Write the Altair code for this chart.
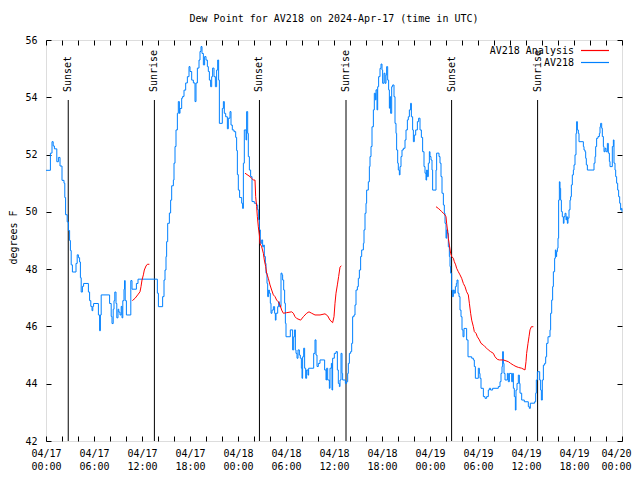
import altair as alt
import pandas as pd

FONT = "DejaVu Sans Mono"

title_text = "Dew Point for AV218 on 2024-Apr-17 (time in UTC)"
y_title = "degrees F"
legend_labels = ["AV218 Analysis", "AV218"]
series_colors = ["#ff0000", "#0080ff"]

# Observed dew point (hours since 2024-04-17 00:00 UTC, degrees F)
blue_hours = [
    0.0, 0.55, 0.75, 0.9, 1.05, 1.35, 1.55, 1.75, 2.0, 2.25, 2.35, 2.45, 2.65, 2.8, 2.95, 3.05, 3.15, 3.3,
    3.75, 3.9, 4.05, 4.2, 4.3, 4.4, 4.55, 4.7, 5.3, 5.45, 5.6, 5.75, 5.85, 5.95, 6.55, 6.7, 6.8, 6.9,
    7.95, 8.15, 8.25, 8.4, 8.5, 8.6, 8.75, 8.85, 9.0, 9.1, 9.25, 9.4, 9.5, 9.6, 9.75, 9.82, 9.9, 10.05,
    10.6, 10.75, 11.3, 11.5, 13.92, 14.05, 14.58, 14.75, 14.875, 15.0, 15.08, 15.21, 15.42, 15.58, 15.71,
    15.92, 16.0, 16.125, 16.25, 16.42, 16.54, 16.67, 16.75, 16.96, 17.08, 17.25, 17.46, 17.67, 17.875,
    18.0, 18.21, 18.42, 18.625, 18.75, 18.92, 19.125, 19.25, 19.375, 19.5, 19.67, 19.83, 20.0, 20.17,
    20.29, 20.42, 20.58, 20.71, 20.83, 21.0, 21.17, 21.33, 21.46, 21.58, 21.67, 22.04, 22.17, 22.29,
    22.46, 22.67, 22.79, 23.0, 23.125, 23.29, 23.5, 23.71, 23.83, 23.92, 24.04, 24.2, 24.46, 24.58,
    24.67, 24.79, 25.0, 25.08, 25.21, 25.29, 25.42, 25.58, 25.75, 26.04, 26.33, 26.46, 26.58, 26.67,
    26.79, 26.96, 27.08, 27.2, 27.29, 27.42, 27.5, 27.625, 27.71, 27.83, 27.92, 28.04, 28.125, 28.25,
    28.42, 28.58, 28.67, 28.75, 28.96, 29.08, 29.17, 29.375, 29.5, 29.58, 29.71, 29.83, 29.92, 30.0,
    30.54, 30.83, 30.96, 31.08, 31.17, 31.25, 31.375, 31.5, 31.67, 31.79, 31.92, 32.0, 32.08, 32.21,
    32.33, 32.46, 32.58, 32.75, 32.83, 33.46, 33.625, 33.75, 33.875, 34.04, 34.25, 34.83, 35.0, 35.08,
    35.21, 35.42, 35.5, 35.67, 35.75, 35.83, 36.04, 36.25, 36.42, 36.54, 36.67, 36.75, 36.875, 37.0,
    37.08, 37.42, 37.58, 37.71, 37.79, 37.92, 38.08, 38.21, 38.33, 38.5, 38.625, 38.75, 38.92, 39.04,
    39.17, 39.33, 39.46, 39.67, 39.75, 39.875, 40.0, 40.08, 40.29, 40.42, 40.5, 40.625, 40.75, 40.92,
    41.04, 41.17, 41.25, 41.375, 41.46, 41.58, 41.75, 41.875, 42.0, 42.08, 42.25, 42.375, 42.5, 42.58,
    42.71, 42.83, 42.92, 43.0, 43.08, 43.21, 43.33, 43.5, 43.625, 43.75, 43.83, 43.96, 44.04, 44.17,
    44.25, 44.375, 44.5, 44.67, 44.875, 45.0, 45.17, 45.29, 45.42, 45.58, 45.67, 45.83, 45.92, 46.04,
    46.21, 46.42, 46.58, 46.75, 46.92, 47.08, 47.25, 47.375, 47.5, 47.58, 47.67, 47.79, 47.92, 48.0,
    48.125, 48.25, 48.33, 48.75, 48.83, 49.125, 49.25, 49.375, 49.5, 49.67, 49.79, 49.875, 50.0, 50.08,
    50.21, 50.29, 50.42, 50.5, 50.58, 50.71, 50.79, 50.92, 51.04, 51.17, 51.29, 51.375, 51.5, 51.625,
    51.75, 51.875, 52.0, 52.125, 52.25, 52.58, 52.75, 53.21, 53.42, 53.54, 53.67, 54.04, 54.17, 54.25,
    54.375, 54.67, 54.875, 55.08, 55.29, 55.42, 55.58, 55.83, 56.54, 56.75, 56.875, 57.0, 57.08, 57.17,
    57.25, 57.375, 57.67, 57.79, 57.92, 58.21, 58.33, 58.42, 58.54, 58.67, 58.75, 58.875, 59.04, 59.17,
    59.25, 59.46, 59.79, 60.29, 60.42, 60.54, 61.08, 61.21, 61.29, 61.42, 61.71, 61.83, 61.92, 62.04,
    62.17, 62.33, 62.46, 62.58, 62.75, 63.0, 63.08, 63.21, 63.33, 63.42, 63.58, 63.67, 63.75, 63.83,
    63.92, 64.0, 64.08, 64.17, 64.25, 64.33, 64.42, 64.54, 64.67, 64.75, 64.875, 65.0, 65.08, 65.17,
    65.25, 65.375, 65.5, 65.58, 65.67, 65.79, 65.92, 66.0, 66.125, 66.25, 66.33, 66.42, 66.54, 66.625,
    67.17, 67.25, 67.375, 67.46, 67.54, 67.67, 68.5, 68.625, 68.71, 68.83, 69.0, 69.17, 69.25, 69.33,
    69.46, 69.54, 69.67, 69.75, 69.875, 70.0, 70.17, 70.29, 70.42, 70.5, 70.79, 70.92, 71.0, 71.125,
    71.21, 71.33, 71.46, 71.58, 71.71, 71.83, 71.92, 72.0,
]
blue_values = [
    51.45, 52.05, 52.45, 52.3, 52.2, 51.75, 51.9, 51.6, 51.1, 51.0, 50.5, 49.9, 49.65, 49.35, 49.0, 48.65, 48.15, 47.9,
    48.2, 48.5, 48.4, 48.25, 47.7, 47.2, 47.4, 47.5, 47.2, 46.9, 46.7, 46.55, 46.7, 46.8, 46.4, 45.85, 46.4, 47.1,
    46.8, 46.35, 46.1, 46.6, 46.9, 47.2, 46.8, 46.3, 46.6, 46.5, 46.4, 46.7, 46.3, 46.9, 47.3, 47.6, 46.9, 46.4,
    47.6, 47.3, 47.5, 47.65, 47.16, 46.69, 47.04, 47.62, 47.97, 48.44, 48.96, 49.6, 49.96, 50.41, 50.91,
    51.11, 51.7, 52.28, 52.86, 53.44, 53.85, 53.44, 53.61, 53.97, 54.03, 54.25, 54.5, 54.72, 55.07,
    54.9, 54.6, 54.5, 53.85, 54.5, 55.02, 55.3, 55.6, 55.77, 55.53, 55.13, 55.42, 55.3, 55.07,
    54.9, 54.6, 54.37, 54.72, 55.02, 54.72, 54.37, 54.95, 55.3, 54.6, 53.09, 53.61, 53.85, 53.44,
    53.32, 52.9, 53.27, 53.5, 53.03, 52.86, 52.8, 52.6, 52.14, 51.3, 50.76, 50.5, 50.3, 50.12,
    51.7, 52.86, 52.51, 53.5, 52.74, 51.93, 51.46, 51.23, 50.36, 50.3, 50.24, 50.07, 49.72, 49.37,
    48.9, 49.02, 48.78, 48.84, 48.44, 48.2, 47.86, 47.5, 47.04, 47.27, 47.16, 46.81, 46.46, 46.57,
    46.69, 46.46, 46.22, 46.46, 46.69, 46.86, 46.69, 47.86, 47.8, 47.62, 47.27, 46.81, 46.11, 45.64,
    45.88, 45.18, 45.64, 45.88, 45.18, 45.06, 44.89, 45.18, 45.0, 44.89, 44.54, 44.19, 44.94, 45.24,
    44.54, 44.19, 44.48, 44.3, 44.54, 45.06, 45.53, 45.0, 44.6, 44.71, 44.83, 44.48, 44.13, 44.54,
    44.13, 43.84, 44.54, 44.71, 43.78, 44.89, 45.06, 45.12, 44.48, 44.01, 43.9, 44.13, 45.06, 44.36,
    44.13, 44.01, 44.07, 44.36, 44.71, 45.06, 45.12, 45.41, 46.34, 46.4, 46.75, 47.27, 47.39, 47.68,
    47.97, 48.44, 48.67, 48.9, 49.37, 49.95, 50.3, 50.76, 51.05, 51.58, 51.93, 52.28, 52.97, 53.56,
    54.14, 53.91, 54.26, 53.56, 54.37, 54.72, 55.01, 55.16, 54.95, 54.49, 54.84, 54.49, 54.78, 55.07,
    54.6, 54.26, 53.62, 54.02, 53.44, 54.37, 54.43, 54.02, 53.09, 52.74, 52.16, 51.7, 51.46, 51.29,
    51.58, 51.93, 52.16, 52.22, 52.51, 52.86, 53.21, 53.32, 53.56, 53.79, 53.32, 52.86, 52.45, 52.68,
    52.86, 53.15, 53.27, 52.86, 52.6, 52.1, 51.58, 51.35, 51.11, 51.46, 51.23, 51.7, 52.1, 51.93,
    51.81, 51.46, 50.76, 51.46, 52.05, 51.93, 51.7, 51.23, 50.65, 50.24, 49.95, 49.6, 49.08, 49.37,
    49.25, 48.78, 48.44, 48.09, 47.86, 47.27, 47.04, 47.27, 47.16, 47.39, 47.5, 47.62, 47.16, 47.04,
    46.57, 46.34, 45.88, 45.64, 45.93, 45.53, 44.94, 44.89, 44.83, 44.6, 44.19, 44.54, 44.36, 44.19,
    43.84, 43.55, 43.49, 43.55, 43.78, 43.84, 43.78, 43.84, 43.9, 44.07, 44.36, 44.6, 45.12, 44.71,
    44.36, 44.13, 44.36, 44.07, 44.36, 44.07, 44.36, 43.84, 43.55, 43.08, 43.78, 44.01, 44.3, 44.01,
    43.67, 43.43, 43.37, 43.2, 43.14, 43.32, 43.37, 43.67, 44.13, 44.42, 44.13, 43.78, 43.43, 44.13,
    44.65, 44.71, 44.94, 45.41, 45.64, 45.88, 46.46, 46.92, 47.39, 47.91, 48.38, 48.67, 48.44, 48.61,
    48.73, 49.08, 50.41, 51.05, 50.82, 50.41, 50.01, 49.83, 49.6, 49.83, 49.95, 49.72, 49.83, 49.6,
    49.78, 50.07, 50.41, 50.53, 50.94, 51.29, 51.46, 51.64, 51.99, 52.74, 53.15, 52.86, 52.74, 52.45,
    52.28, 52.16, 52.1, 51.87, 51.64, 51.46, 51.7, 51.93, 52.28, 52.57, 52.63, 52.74, 52.97, 53.09,
    52.92, 52.63, 52.28, 52.1, 52.22, 52.1, 52.39, 52.05, 51.76, 51.58, 52.28, 52.51, 51.7, 51.46,
    51.23, 51.0, 50.76, 50.53, 50.3, 50.07, 50.12, 50.0,
]

# Analysis runs (three separate pieces)
red_a_hours = [10.79, 11.125, 11.46, 11.75, 11.875, 12.0, 12.17, 12.29, 12.5, 12.67, 12.92]
red_a_values = [46.9, 46.98, 47.1, 47.21, 47.39, 47.62, 47.8, 47.97, 48.11, 48.17, 48.17]
red_b_hours = [
    24.875, 25.5, 25.71, 25.92, 26.125, 26.21, 26.33, 26.42, 26.54, 26.67, 26.75, 26.96, 27.17, 27.29,
    27.46, 27.58, 27.79, 28.0, 28.21, 28.42, 28.625, 28.83, 29.04, 29.25, 29.46, 29.67, 30.08, 30.71,
    30.92, 31.125, 31.33, 31.83, 32.17, 32.58, 32.875, 33.21, 33.625, 34.25, 34.875, 35.21, 35.5, 35.83,
    36.0, 36.125, 36.25, 36.42, 36.58, 36.75, 36.92,
]
red_b_values = [
    51.35, 51.23, 51.17, 51.11, 51.11, 50.53, 50.18, 49.83, 49.48, 49.19, 48.9, 48.78, 48.55, 48.32,
    48.09, 47.86, 47.68, 47.45, 47.27, 47.1, 47.04, 46.92, 46.86, 46.75, 46.57, 46.46, 46.48, 46.51,
    46.46, 46.34, 46.28, 46.22, 46.34, 46.46, 46.51, 46.46, 46.4, 46.4, 46.44, 46.37, 46.22, 46.13,
    46.34, 46.81, 47.16, 47.45, 47.74, 48.07, 48.12,
]
red_c_hours = [
    48.75, 49.04, 49.25, 49.46, 49.67, 49.875, 50.0, 50.08, 50.21, 50.29, 50.42, 50.58, 50.71, 50.92,
    51.04, 51.21, 51.33, 51.54, 51.75, 51.96, 52.17, 52.375, 52.58, 52.79, 52.92, 53.08, 53.21, 53.42,
    53.54, 53.75, 53.92, 54.17, 54.375, 54.67, 54.875, 55.08, 55.29, 55.58, 55.92, 56.125, 56.42, 56.67,
    57.17, 57.79, 58.08, 58.42, 58.75, 59.04, 59.46, 59.875, 60.0, 60.08, 60.25, 60.375, 60.5, 60.67, 60.92,
]
red_c_values = [
    50.18, 50.12, 50.07, 50.01, 49.95, 49.89, 49.83, 49.6, 49.31, 49.08, 48.84, 48.55, 48.44, 48.38,
    48.26, 48.15, 48.03, 47.91, 47.8, 47.68, 47.5, 47.39, 47.21, 47.1, 46.81, 46.46, 46.22, 45.99,
    45.82, 45.76, 45.64, 45.53, 45.41, 45.35, 45.29, 45.24, 45.18, 45.12, 45.06, 44.94, 44.85, 44.83,
    44.83, 44.77, 44.71, 44.65, 44.6, 44.57, 44.54, 44.48, 44.77, 45.06, 45.41, 45.64, 45.88, 45.99, 45.99,
]

event_names = ["Sunset", "Sunrise", "Sunset", "Sunrise", "Sunset", "Sunrise"]
event_hours = [2.78, 13.55, 26.68, 37.5, 50.7, 61.45]

x_label_hours = list(range(0, 73, 6))
x_tick_hours = list(range(0, 73, 2))
y_ticks = [42, 44, 46, 48, 50, 52, 54, 56]

blue_df = pd.DataFrame({"hour": blue_hours, "dewpoint": blue_values})
red_df = pd.concat([
    pd.DataFrame({"hour": h, "dewpoint": v, "run": k})
    for k, (h, v) in enumerate([(red_a_hours, red_a_values), (red_b_hours, red_b_values),
                                (red_c_hours, red_c_values)])
], ignore_index=True)
ev_df = pd.DataFrame({"hour": event_hours, "name": event_names})

xs = alt.Scale(domain=[0, 72], nice=False, zero=False)
ys = alt.Scale(domain=[42, 56], nice=False, zero=False)

label_expr = ("['04/' + (17 + floor(datum.value / 24)), "
              "(datum.value % 24 < 10 ? '0' : '') + (datum.value % 24) + ':00']")

blue = alt.Chart(blue_df).mark_line(
    interpolate="step-after", color=series_colors[1], strokeWidth=1
).encode(
    x=alt.X("hour:Q", scale=xs, axis=alt.Axis(
        orient="bottom", values=x_label_hours, labelExpr=label_expr, ticks=False,
        domain=False, grid=False, title=None, labelFont=FONT, labelFontSize=10,
        labelColor="black", labelPadding=7, labelLineHeight=13, labelBaseline="top",
        labelFlush=False, labelOverlap=False,
        labelOffset={"condition": {"test": "datum.value == 72", "value": -6}, "value": 0})),
    y=alt.Y("dewpoint:Q", scale=ys, axis=alt.Axis(
        orient="left", values=y_ticks, ticks=False, domain=False, grid=False,
        labelFont=FONT, labelFontSize=10, labelColor="black", labelPadding=9,
        title=y_title, titleFont=FONT, titleFontSize=10, titleFontWeight="normal",
        titleColor="black", titleAngle=270, titleX=-33, titleY=197,
        titleAlign="center", titleBaseline="middle")),
)

red = alt.Chart(red_df).mark_line(color=series_colors[0], strokeWidth=1).encode(
    x=alt.X("hour:Q", scale=xs, axis=None),
    y=alt.Y("dewpoint:Q", scale=ys, axis=None),
    detail="run:N",
)

rules = alt.Chart(ev_df).mark_rule(color="black", strokeWidth=1).encode(
    x=alt.X("hour:Q", scale=xs, axis=None),
    y=alt.value(60), y2=alt.value(401),
)

ev_text = alt.Chart(ev_df).mark_text(
    angle=270, align="left", baseline="middle", font=FONT, fontSize=10, color="black"
).encode(
    x=alt.X("hour:Q", scale=xs, axis=None),
    y=alt.value(52),
    text="name:N",
)

tick_axis = dict(ticks=True, tickSize=5, tickColor="black", labels=False, domain=False,
                 grid=False, title=None, offset=-5)
ticks_bl = alt.Chart(blue_df).mark_point(opacity=0).encode(
    x=alt.X("hour:Q", scale=xs, axis=alt.Axis(orient="bottom", values=x_tick_hours, **tick_axis)),
    y=alt.Y("dewpoint:Q", scale=ys, axis=alt.Axis(orient="left", values=y_ticks, **tick_axis)),
)
ticks_tr = alt.Chart(blue_df).mark_point(opacity=0).encode(
    x=alt.X("hour:Q", scale=xs, axis=alt.Axis(orient="top", values=x_tick_hours, **tick_axis)),
    y=alt.Y("dewpoint:Q", scale=ys, axis=alt.Axis(orient="right", values=y_ticks, **tick_axis)),
)

title = alt.Chart(pd.DataFrame({"t": [title_text]})).mark_text(
    font=FONT, fontSize=10, color="black", align="center", baseline="middle"
).encode(x=alt.value(288), y=alt.value(-21), text="t:N")

leg_rows = []
for i, (lab, col) in enumerate(zip(legend_labels, series_colors)):
    d = pd.DataFrame({"label": [lab]})
    yy = 10.5 + 12 * i
    leg_rows.append(alt.Chart(d).mark_text(
        font=FONT, fontSize=10, color="black", align="right", baseline="middle"
    ).encode(x=alt.value(528), y=alt.value(yy), text="label:N"))
    leg_rows.append(alt.Chart(d).mark_rule(color=col, strokeWidth=1.2).encode(
        x=alt.value(535), x2=alt.value(563), y=alt.value(yy)))

chart = alt.layer(
    rules, ev_text, blue, red, ticks_bl, ticks_tr, title, *leg_rows
).resolve_scale(x="independent", y="independent").properties(
    width=576, height=401,
    autosize=alt.AutoSizeParams(type="none"),
    padding={"left": 38, "top": 32, "right": 10, "bottom": 31},
).configure_view(stroke="black", strokeWidth=1).configure(background="white")

chart.save("out.html", embed_options={"renderer": "svg", "actions": False})
